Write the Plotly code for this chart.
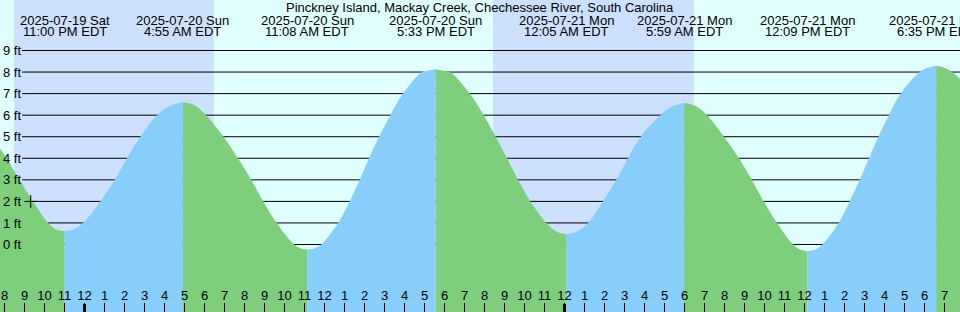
import plotly.graph_objects as go

TITLE = "Pinckney Island, Mackay Creek, Chechessee River, South Carolina"

# Tide curve: hours since 2025-07-20 00:00 EDT, height in ft
curve_hours = [
    -4.225, -3.89, -3.25, -2.575, -1.81, -1.45,
    -1.0,
    -0.55, -0.075, 0.795, 1.51, 2.125, 2.795, 3.625, 4.27,
    4.917,
    5.5, 6.075, 6.95, 7.675, 8.34, 8.94, 9.61, 10.485, 10.81,
    11.133,
    11.48, 11.835, 12.675, 13.26, 13.76, 14.225, 14.725, 15.295, 15.925, 16.875, 17.15,
    17.55,
    17.95, 18.275, 19.26, 19.96, 20.56, 21.125, 21.675, 22.295, 23.095, 23.59,
    24.083,
    24.63, 25.175, 25.925, 26.595, 27.175, 27.81, 28.795, 29.38,
    29.983,
    30.53, 31.125, 31.975, 32.725, 33.36, 33.96, 34.625, 35.425, 35.79,
    36.15,
    36.52, 36.895, 37.71, 38.26, 38.76, 39.225, 39.695, 40.225, 40.81, 41.76, 42.17,
    42.583,
    43.16, 43.775,
]
curve_feet = [
    4.45, 4.0, 3.0, 2.0, 1.0, 0.71,
    0.62,
    0.71, 1.0, 2.0, 3.0, 4.0, 5.0, 6.0, 6.43,
    6.60,
    6.46, 6.0, 5.0, 4.0, 3.0, 2.0, 1.0, 0.0, -0.18,
    -0.23,
    -0.18, 0.0, 1.0, 2.0, 3.0, 4.0, 5.0, 6.0, 7.0, 8.0, 8.06,
    8.13,
    8.06, 8.0, 7.0, 6.0, 5.0, 4.0, 3.0, 2.0, 1.0, 0.60,
    0.48,
    0.60, 1.0, 2.0, 3.0, 4.0, 5.0, 6.0, 6.41,
    6.57,
    6.44, 6.0, 5.0, 4.0, 3.0, 2.0, 1.0, 0.0, -0.245,
    -0.31,
    -0.245, 0.0, 1.0, 2.0, 3.0, 4.0, 5.0, 6.0, 7.0, 8.0, 8.20,
    8.29,
    8.13, 7.68,
]

# High / low tide events
extreme_hours = [-1.0, 4.917, 11.133, 17.55, 24.083, 29.983, 36.15, 42.583]
extreme_dates = ["2025-07-19 Sat", "2025-07-20 Sun", "2025-07-20 Sun", "2025-07-20 Sun",
                 "2025-07-21 Mon", "2025-07-21 Mon", "2025-07-21 Mon", "2025-07-21 Mon"]
extreme_clock = ["11:00 PM EDT", "4:55 AM EDT", "11:08 AM EDT", "5:33 PM EDT",
                 "12:05 AM EDT", "5:59 AM EDT", "12:09 PM EDT", "6:35 PM EDT"]

# Night (sunset -> sunrise), hours since 2025-07-20 00:00
sunset_hours = [-3.525, 20.425]
sunrise_hours = [6.46, 30.46]

# Current-time marker
now_hour = [-2.69]
now_feet = [2.0]

# Axis ticks
height_ticks = list(range(0, 10))
height_labels = [f"{v} ft" for v in height_ticks]
hour_ticks = list(range(-4, 44))
hour_labels = [str((h % 12) or 12) for h in hour_ticks]
midnight_hours = [0, 24]

X_RANGE = [-4.225, 43.775]
Y_RANGE = [-3.131, 11.343]

BG = "#E0FFFF"
NIGHT = "#CCE0FF"
RISING = "#87CEFA"
FALLING = "#7ECE7E"
FONT = "Liberation Sans"
FS = 13

fig = go.Figure()

# split curve into monotone segments at extremes
cut_idx = [curve_hours.index(t) for t in extreme_hours]
bounds = [0] + cut_idx + [len(curve_hours) - 1]
base = Y_RANGE[0] - 2
for a, b in zip(bounds[:-1], bounds[1:]):
    xs = curve_hours[a:b + 1]
    ys = curve_feet[a:b + 1]
    color = RISING if ys[-1] > ys[0] else FALLING
    fig.add_trace(go.Scatter(x=xs, y=[base] * len(xs), mode="lines",
                             line=dict(width=0), hoverinfo="skip", showlegend=False))
    fig.add_trace(go.Scatter(x=xs, y=ys, mode="lines", line=dict(width=0, shape="spline"),
                             fill="tonexty", fillcolor=color, hoverinfo="skip",
                             showlegend=False))

fig.add_trace(go.Scatter(x=now_hour, y=now_feet, mode="markers",
                         marker=dict(symbol="cross-thin", size=9,
                                     line=dict(width=1, color="black")),
                         hoverinfo="skip", showlegend=False))

shapes = []
for s, r in zip(sunset_hours, sunrise_hours):
    shapes.append(dict(type="rect", xref="x", yref="paper", x0=s, x1=r, y0=0, y1=1,
                       fillcolor=NIGHT, line=dict(width=0), layer="below"))
for v in height_ticks:
    shapes.append(dict(type="line", xref="paper", yref="y", x0=22 / 960, x1=1, y0=v, y1=v,
                       line=dict(color="black", width=1), layer="below"))
for m in midnight_hours:
    shapes.append(dict(type="line", xref="x", yref="paper", x0=m, x1=m,
                       y0=0, y1=8 / 312, line=dict(color="black", width=3), layer="above"))

annotations = [dict(text=TITLE, xref="paper", yref="paper", x=0.5, y=1 - 7 / 312,
                    xanchor="center", yanchor="middle", showarrow=False,
                    font=dict(family=FONT, size=FS, color="black"))]
for t, d, c in zip(extreme_hours, extreme_dates, extreme_clock):
    annotations.append(dict(text=d, xref="x", yref="paper", x=t, y=1 - 20 / 312,
                            xanchor="center", yanchor="middle", showarrow=False,
                            font=dict(family=FONT, size=FS, color="black")))
    annotations.append(dict(text=c, xref="x", yref="paper", x=t, y=1 - 31.5 / 312,
                            xanchor="center", yanchor="middle", showarrow=False,
                            font=dict(family=FONT, size=FS, color="black")))

fig.update_layout(
    width=960, height=312, autosize=False,
    margin=dict(l=0, r=0, t=0, b=0, pad=0),
    paper_bgcolor=BG, plot_bgcolor=BG,
    font=dict(family=FONT, size=FS, color="black"),
    shapes=shapes, annotations=annotations,
    xaxis=dict(range=X_RANGE, tickvals=hour_ticks, ticktext=hour_labels, tickangle=0,
               ticks="inside", ticklen=9, tickwidth=1, tickcolor="black",
               ticklabelposition="inside", ticklabeloverflow="allow",
               showgrid=False, zeroline=False, showline=False,
               tickfont=dict(family=FONT, size=FS, color="black"), fixedrange=True),
    yaxis=dict(range=Y_RANGE, tickvals=height_ticks, ticktext=height_labels,
               ticks="", ticklabelposition="inside", ticklabeloverflow="allow",
               showgrid=False, zeroline=False,
               showline=False, tickfont=dict(family=FONT, size=FS, color="black"),
               fixedrange=True),
)

fig.write_html("out.html")
